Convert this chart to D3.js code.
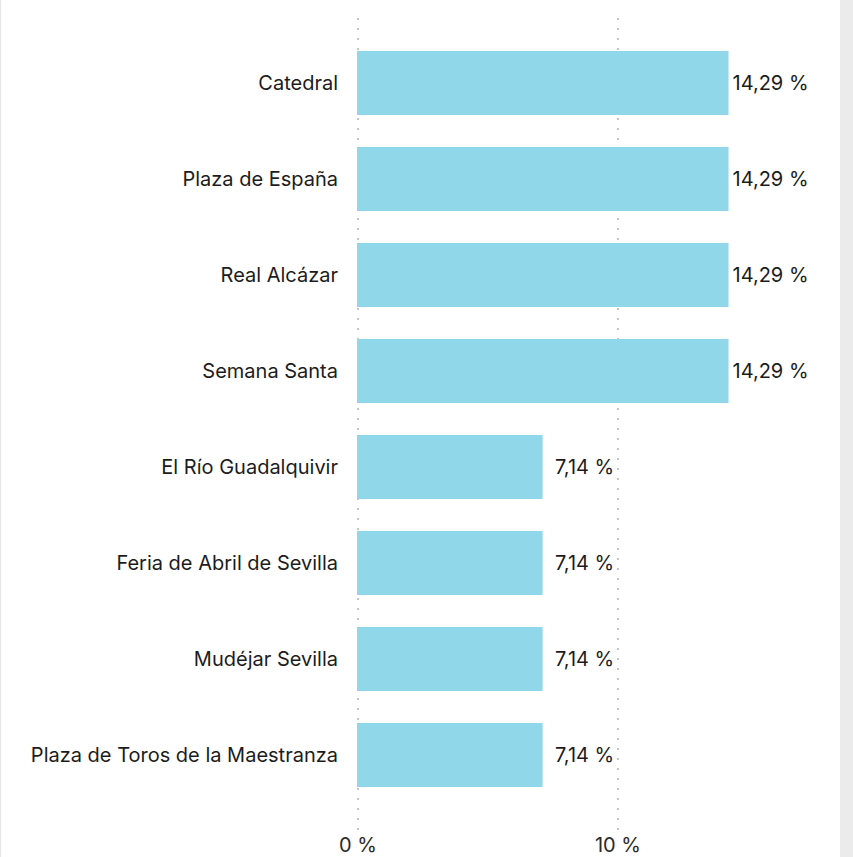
<!DOCTYPE html>
<html>
<head>
<meta charset="utf-8">
<script src="https://cdn.jsdelivr.net/npm/d3@7"></script>
<style>
  html, body { margin: 0; padding: 0; background: #fff; }
  svg { display: block; font-family: Inter, "Noto Sans", sans-serif; }
  .cat { font-size: 20px; fill: #1c1c1c; }
  .val { font-size: 20px; fill: #1c1c1c; }
  .tick_lbl { font-size: 20px; fill: #2a2a2a; }
</style>
</head>
<body>
<svg id="chart"></svg>
<script>
let categories = ["Catedral", "Plaza de España", "Real Alcázar", "Semana Santa",
  "El Río Guadalquivir", "Feria de Abril de Sevilla", "Mudéjar Sevilla",
  "Plaza de Toros de la Maestranza"]
let values = [14.29, 14.29, 14.29, 14.29, 7.14, 7.14, 7.14, 7.14]
let ticks = [0, 10]

let width = 853,
  height = 857,
  margins = {left: 357, right: 0, top: 19, bottom: 38};

let svg = d3.select("#chart").attr("width", width).attr("height", height)

// page frame: thin line on the left, grey strip on the right
svg.append("rect").attr("x", 0).attr("y", 0).attr("width", 1).attr("height", height).attr("fill", "#e6e6e6")
svg.append("rect").attr("x", 840).attr("y", 0).attr("width", width - 840).attr("height", height).attr("fill", "#ebebeb")

let x = d3.scaleLinear().domain([0, 10]).range([margins.left, 617])
let y = d3.scaleBand().domain(categories).range([margins.top, height - margins.bottom]).padding(1 / 3)

// dotted grid
svg.append("g").selectAll("line")
  .data(ticks).enter()
  .append("line")
  .attr("x1", d => x(d) + 1).attr("x2", d => x(d) + 1)
  .attr("y1", 18).attr("y2", 830)
  .attr("stroke", "#c4c4c4")
  .attr("stroke-width", 2)
  .attr("stroke-dasharray", "2 8")

svg.append("g").selectAll("rect")
  .data(values).enter()
  .append("rect")
  .attr("x", x(0))
  .attr("y", (d, i) => y(categories[i]))
  .attr("width", d => x(d) - x(0))
  .attr("height", y.bandwidth())
  .attr("fill", "#90d8e9")

svg.append("g").selectAll("text")
  .data(categories).enter()
  .append("text")
  .attr("class", "cat")
  .attr("x", x(0) - 19)
  .attr("y", d => y(d) + y.bandwidth() / 2)
  .attr("dy", "0.35em")
  .attr("text-anchor", "end")
  .text(d => d)

let fmt = v => v.toFixed(2).replace(".", ",") + " %"

svg.append("g").selectAll("text")
  .data(values).enter()
  .append("text")
  .attr("class", "val")
  .attr("x", d => x(d) + 42)
  .attr("y", (d, i) => y(categories[i]) + y.bandwidth() / 2)
  .attr("dy", "0.35em")
  .attr("text-anchor", "middle")
  .text(fmt)

svg.append("g").selectAll("text")
  .data(ticks).enter()
  .append("text")
  .attr("class", "tick_lbl")
  .attr("x", d => x(d) + 1)
  .attr("y", 852)
  .attr("text-anchor", "middle")
  .text(d => d + " %")
</script>
</body>
</html>
